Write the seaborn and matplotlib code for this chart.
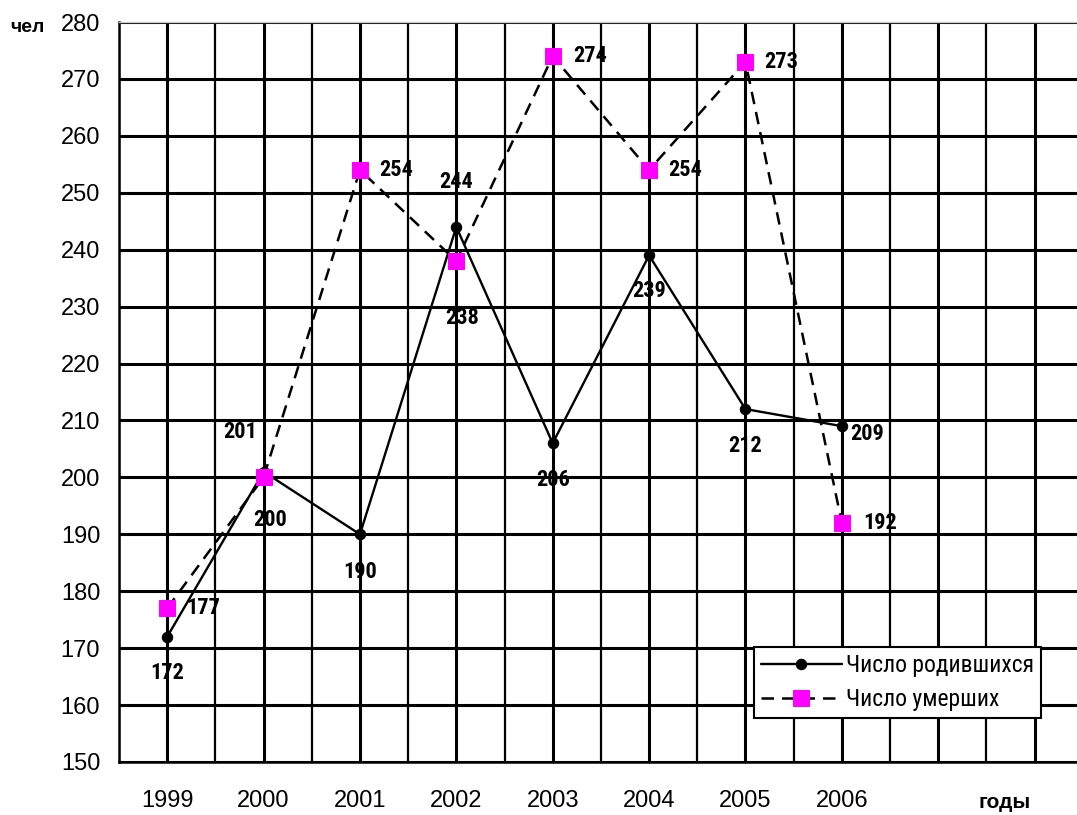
import pandas as pd
import matplotlib.pyplot as plt
import seaborn as sns

years = ['1999', '2000', '2001', '2002', '2003', '2004', '2005', '2006']
born = [172, 201, 190, 244, 206, 239, 212, 209]
died = [177, 200, 254, 238, 274, 254, 273, 192]
born_name = 'Число родившихся'
died_name = 'Число умерших'

# label offsets in pixels (dx, dy), dy positive = down
born_off = [(0, 36), (-23, -40), (0, 38), (0, -45), (0, 37), (0, 36), (0, 37), (25, 8)]
died_off = [(36, 0), (7, 43), (36, 0), (6, 57), (37, 0), (36, 0), (36, 0), (38, 0)]

sns.set_style('white')
plt.rcParams['font.family'] = ['Liberation Sans', 'DejaVu Sans']
plt.rcParams['text.color'] = 'black'
plt.rcParams['xtick.color'] = 'black'
plt.rcParams['ytick.color'] = 'black'
plt.rcParams['axes.labelcolor'] = 'black'
narrow = ['Liberation Sans Narrow', 'Roboto Condensed', 'DejaVu Sans']

df = pd.DataFrame({'pos': range(len(years)), 'born': born, 'died': died})

fig = plt.figure(figsize=(10.77, 8.15), dpi=100)
ax = fig.add_axes([119 / 1077, 53 / 815, 958 / 1077, 740 / 815])

sns.lineplot(data=df, x='pos', y='born', ax=ax, color='black', lw=1.7,
             marker='o', markersize=7.5, markeredgecolor='black',
             label=born_name, zorder=5)
sns.lineplot(data=df, x='pos', y='died', ax=ax, color='black', lw=1.8,
             linestyle=(0, (5, 3.2)), marker='s', markersize=11,
             markerfacecolor='#ff00ff', markeredgecolor='#ff00ff',
             label=died_name, zorder=6)

for i in range(len(years)):
    ax.annotate(str(born[i]), (i, born[i]), xytext=(born_off[i][0], -born_off[i][1]),
                textcoords='offset pixels', ha='center', va='center',
                fontsize=16, fontweight='bold', family=narrow, fontstretch='condensed',
                zorder=7)
    ax.annotate(str(died[i]), (i, died[i]), xytext=(died_off[i][0], -died_off[i][1]),
                textcoords='offset pixels', ha='center', va='center',
                fontsize=16, fontweight='bold', family=narrow, fontstretch='condensed',
                zorder=7)

ax.set_xlim(-0.5, 9.44)
ax.set_ylim(150, 280)
ax.set_yticks(range(150, 281, 10))
ax.set_xticks([i - 0.5 for i in range(10)])
ax.set_xticks(range(10), minor=True)
ax.set_xticklabels([])
ax.set_xticklabels(years + ['', ''], minor=True)
ax.tick_params(axis='x', which='major', direction='out', length=5, width=1.6, color='black')
ax.tick_params(axis='x', which='minor', length=0, pad=20, labelsize=17)
ax.tick_params(axis='y', direction='inout', length=11, width=1.8, color='black',
               labelsize=17, pad=8)

ax.set_axisbelow(True)
ax.grid(axis='y', which='major', color='black', lw=2.2)
ax.grid(axis='x', which='major', color='black', lw=1.6)
ax.grid(axis='x', which='minor', color='black', lw=2.2)

ax.spines['left'].set_color('black')
ax.spines['left'].set_linewidth(1.8)
ax.spines['bottom'].set_color('black')
ax.spines['bottom'].set_linewidth(1.8)
ax.spines['top'].set_color('#cccccc')
ax.spines['top'].set_linewidth(1)
ax.spines['right'].set_visible(False)

ax.set_xlabel('')
ax.set_ylabel('')
fig.text(27 / 1077, 1 - 28 / 815, 'чел', fontsize=14, fontweight='bold',
         ha='center', va='center')
fig.text(1005 / 1077, 1 - 803 / 815, 'годы', fontsize=15, fontweight='bold',
         ha='center', va='center')

leg = ax.legend(loc='lower left', bbox_to_anchor=(0.663, 0.0595), borderaxespad=0,
                frameon=True, fancybox=False, edgecolor='black', framealpha=1,
                prop={'family': narrow, 'size': 17, 'stretch': 'condensed'},
                handlelength=3.4, handletextpad=0.2, borderpad=0.3, labelspacing=0.45)
leg.get_frame().set_linewidth(1.5)

fig.savefig('out.png', dpi=100)
